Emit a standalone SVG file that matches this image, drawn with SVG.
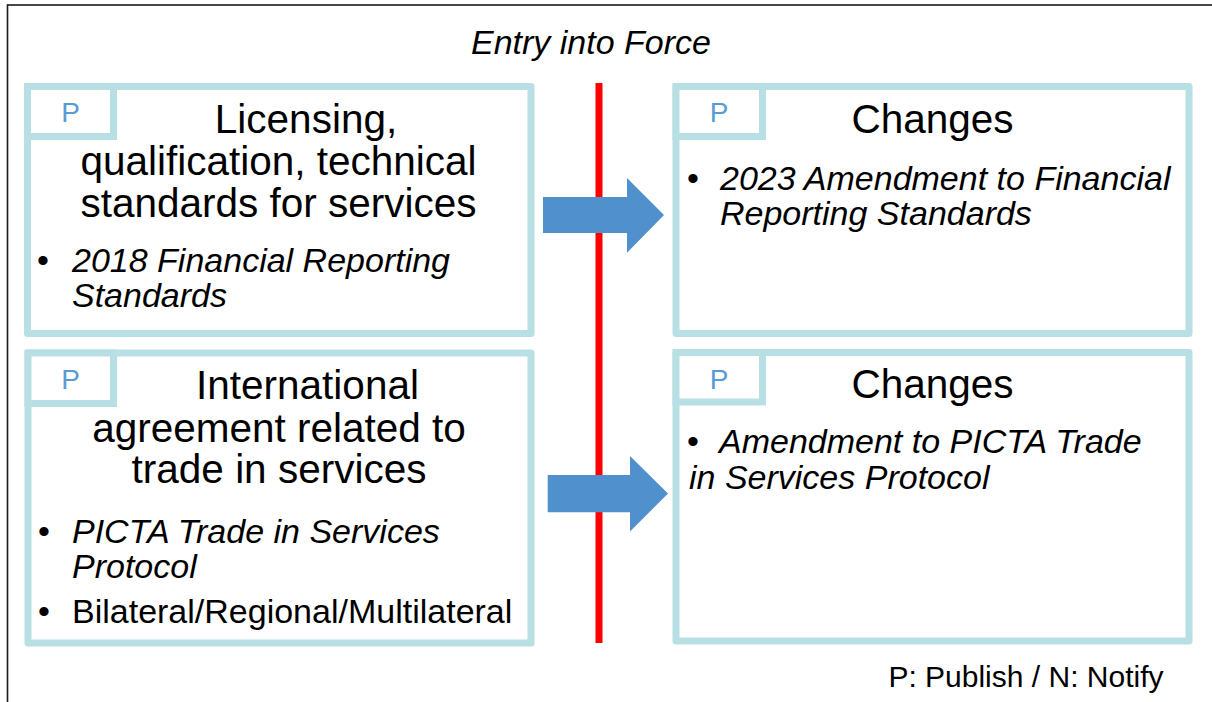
<svg xmlns="http://www.w3.org/2000/svg" width="1212" height="702" viewBox="0 0 1212 702">
<style>
.frame{fill:none;stroke:#1a1a1a;stroke-width:1.6}
.box{fill:#ffffff;stroke:#b8dfe3;stroke-width:7;stroke-linejoin:round}
.tab{fill:#ffffff;stroke:#b8dfe3;stroke-width:7;stroke-linejoin:miter}
.p{font-family:"Liberation Sans",Arial,sans-serif;font-size:28px;fill:#5b9bd5;text-anchor:middle}
.title{font-family:"Liberation Sans",Arial,sans-serif;font-size:40.5px;fill:#000;text-anchor:middle}
.bul{font-family:"Liberation Sans",Arial,sans-serif;font-size:34px;fill:#000}
.it{font-style:italic}
.head{font-family:"Liberation Sans",Arial,sans-serif;font-size:34px;font-style:italic;fill:#000;text-anchor:middle}
.note{font-family:"Liberation Sans",Arial,sans-serif;font-size:30px;fill:#000;text-anchor:end}
.arrow{fill:#4f90cd}
</style>
<rect class="frame" x="7.5" y="5" width="1300" height="800"/>
<text class="head" x="591" y="54">Entry into Force</text>
<g id="divider"><line x1="599" y1="83" x2="599" y2="643" stroke="#ff0000" stroke-width="7"/></g>

<g id="node-licensing">
<rect class="box" x="27.5" y="86.5" width="503.5" height="247"/>
<rect class="tab" x="27.5" y="86.5" width="86" height="50"/>
<text class="p" x="70.5" y="121.5">P</text>
<text class="title" x="306" y="132.5">Licensing,</text>
<text class="title" x="278.5" y="175">qualification, technical</text>
<text class="title" x="278.5" y="217">standards for services</text>
<text class="bul" x="37" y="271.5">•</text>
<text class="bul it" x="72" y="271.5">2018 Financial Reporting</text>
<text class="bul it" x="72" y="306.5">Standards</text>
</g>

<g id="node-agreement">
<rect class="box" x="28" y="353" width="503" height="290"/>
<rect class="tab" x="28" y="353" width="85.5" height="50.5"/>
<text class="p" x="70.5" y="389">P</text>
<text class="title" x="307.5" y="399.3">International</text>
<text class="title" x="279" y="441.7">agreement related to</text>
<text class="title" x="279" y="483.3">trade in services</text>
<text class="bul" x="38" y="543.3">•</text>
<text class="bul it" x="72" y="543.3">PICTA Trade in Services</text>
<text class="bul it" x="72" y="578.3">Protocol</text>
<text class="bul" x="38" y="622.7">•</text>
<text class="bul" x="72" y="622.7">Bilateral/Regional/Multilateral</text>
</g>

<g id="node-changes-1">
<rect class="box" x="676" y="86.5" width="513" height="247"/>
<rect class="tab" x="676" y="86.5" width="86.5" height="50"/>
<text class="p" x="719" y="121.5">P</text>
<text class="title" x="932.5" y="133.3">Changes</text>
<text class="bul" x="687" y="190">•</text>
<text class="bul it" x="720" y="190">2023 Amendment to Financial</text>
<text class="bul it" x="720" y="225">Reporting Standards</text>
</g>

<g id="node-changes-2">
<rect class="box" x="676" y="352.5" width="513" height="288.5"/>
<rect class="tab" x="676" y="352.5" width="86.5" height="49.5"/>
<text class="p" x="719" y="389">P</text>
<text class="title" x="932.5" y="398.3">Changes</text>
<text class="bul" x="687" y="453.3">•</text>
<text class="bul it" x="719" y="453.3">Amendment to PICTA Trade</text>
<text class="bul it" x="689" y="489.3">in Services Protocol</text>
</g>

<g id="connectors">
<polygon class="arrow" points="543,197 627,197 627,178 664,215 627,252.7 627,233 543,233"/>
<polygon class="arrow" points="547.7,475 630,475 630,456 668,493.5 630,531.5 630,512.3 547.7,512.3"/>
</g>

<text class="note" x="1163.5" y="686.7">P: Publish / N: Notify</text>
</svg>
